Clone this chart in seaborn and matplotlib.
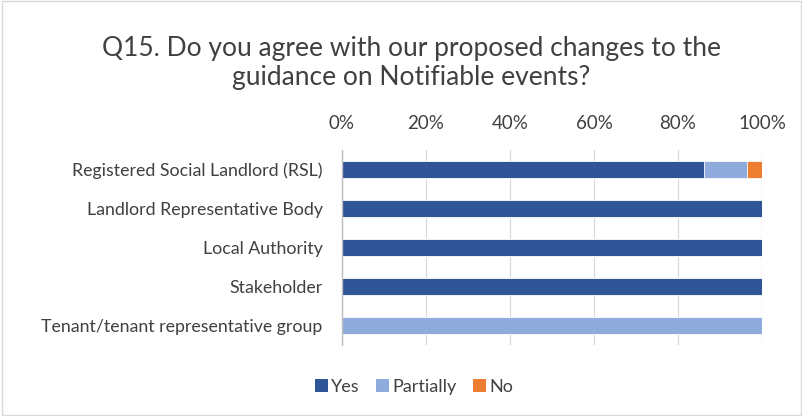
import matplotlib
matplotlib.use("Agg")
import matplotlib.pyplot as plt
import seaborn as sns
import pandas as pd
import numpy as np
from matplotlib.ticker import PercentFormatter
from matplotlib.patches import Patch

categories = ["Registered Social Landlord (RSL)", "Landlord Representative Body",
              "Local Authority", "Stakeholder", "Tenant/tenant representative group"]
yes = [86.2, 100, 100, 100, 0]
partially = [10.3, 0, 0, 0, 100]
no = [3.5, 0, 0, 0, 0]
series = ["Yes", "Partially", "No"]
colors = {"Yes": "#2F5597", "Partially": "#8FAADC", "No": "#ED7D31"}
ticks = [0, 20, 40, 60, 80, 100]

sns.set_theme(style="white")
plt.rcParams["font.family"] = ["Lato", "DejaVu Sans"]

df = pd.DataFrame({"cat": categories, "Yes": yes, "Partially": partially, "No": no})
df["c_yes"] = df["Yes"]
df["c_part"] = df["Yes"] + df["Partially"]
df["c_no"] = df["c_part"] + df["No"]

fig = plt.figure(figsize=(8.03, 4.16), dpi=100)
ax = fig.add_axes([342/803, 1-345/416, 420/803, 195/416])

for col, name in [("c_no", "No"), ("c_part", "Partially"), ("c_yes", "Yes")]:
    sns.barplot(data=df, y="cat", x=col, orient="h", color=colors[name],
                order=categories, width=0.42, ax=ax, saturation=1,
                edgecolor="white", linewidth=0.6)

ax.set_xlim(0, 100)
ax.set_xticks(ticks)
ax.xaxis.set_major_formatter(PercentFormatter(decimals=0))
ax.xaxis.tick_top()
ax.tick_params(axis="x", length=0, labelsize=13.5, colors="#404040", pad=13)
ax.tick_params(axis="y", length=0, labelsize=12.8, colors="#404040", pad=14)
ax.set_xlabel("")
ax.set_ylabel("")
ax.grid(axis="x", color="#D9D9D9", linewidth=0.9)
ax.set_axisbelow(True)
for s in ["top", "right", "bottom"]:
    ax.spines[s].set_visible(False)
ax.spines["left"].set_color("#BFBFBF")
ax.spines["left"].set_linewidth(1)

fig.text(411/803, 1-63/416,
         "Q15. Do you agree with our proposed changes to the\nguidance on Notifiable events?",
         ha="center", va="center", fontsize=19, color="#404040", linespacing=1.2)

handles = [Patch(facecolor=colors[s], edgecolor="none") for s in series]
fig.legend(handles, series, loc="center", bbox_to_anchor=(414/803, 1-387/416),
           ncol=3, frameon=False, fontsize=13, handlelength=0.7, handleheight=0.7,
           handletextpad=0.2, columnspacing=0.9, labelcolor="#404040")

border = plt.Rectangle((0.002, 0.002), 0.996, 0.996, transform=fig.transFigure,
                       fill=False, edgecolor="#D9D9D9", linewidth=1)
fig.add_artist(border)

fig.savefig("out.png", dpi=100)
